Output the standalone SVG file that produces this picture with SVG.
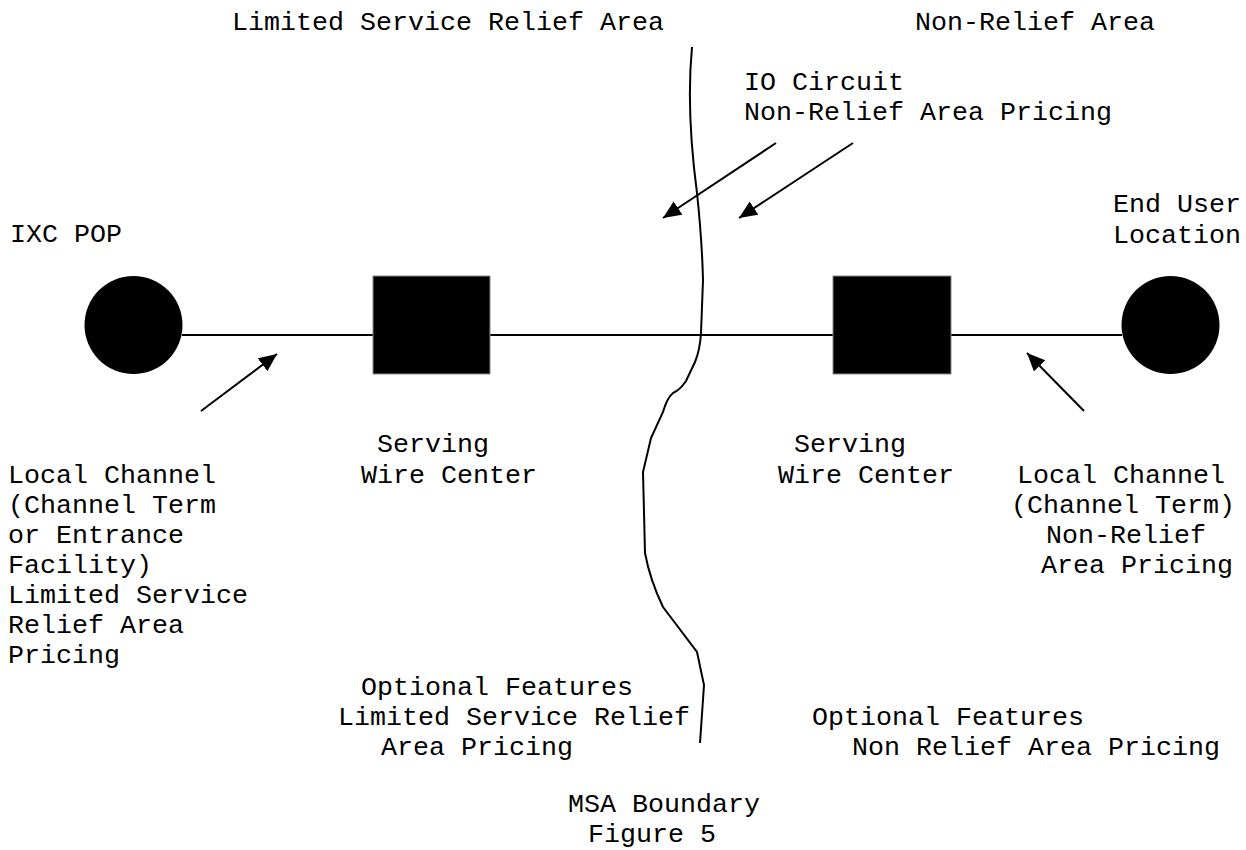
<svg xmlns="http://www.w3.org/2000/svg" width="1246" height="850" viewBox="0 0 1246 850">
<style>
text{font-family:"Liberation Mono","Courier New",monospace;font-size:26.67px;fill:#000;white-space:pre}
.ln{stroke:#000;stroke-width:2;fill:none}
.node{fill:#000}
</style>
<defs>
<marker id="ah" markerUnits="userSpaceOnUse" markerWidth="20" markerHeight="18" refX="18" refY="8" orient="auto">
<path d="M0,0 L18,8 L0,16 Z" fill="#000"/>
</marker>
</defs>
<rect width="1246" height="850" fill="#fff"/>
<g id="connectors">
<line class="ln" x1="182" y1="335" x2="1122" y2="335"/>
<path id="msa-boundary" class="ln" d="M692,47 Q686,110 697,193 Q702,240 703,280 L701,333 Q700,350 695,362 L686,381 Q680,390 673,393 Q667,398 663,412 L651,438 L643,472 L645,553 Q650,580 663,607 L697,652 L704,685 L700,743"/>
<line class="ln" x1="776" y1="143" x2="663" y2="218" marker-end="url(#ah)"/>
<line class="ln" x1="853" y1="143" x2="739" y2="218" marker-end="url(#ah)"/>
<line class="ln" x1="201" y1="411" x2="277" y2="354" marker-end="url(#ah)"/>
<line class="ln" x1="1084" y1="411" x2="1027" y2="353" marker-end="url(#ah)"/>
</g>
<g id="ixc-pop">
<circle class="node" cx="133.5" cy="325" r="49"/>
<text x="10" y="242">IXC POP</text>
</g>
<g id="end-user">
<circle class="node" cx="1170.5" cy="325" r="49"/>
<text x="1113" y="212">End User</text>
<text x="1113" y="243">Location</text>
</g>
<g id="swc-left">
<rect class="node" x="373" y="276" width="117" height="98" stroke="#888" stroke-width="1"/>
<text x="377" y="452">Serving</text>
<text x="361" y="483">Wire Center</text>
</g>
<g id="swc-right">
<rect class="node" x="833" y="276" width="118" height="98" stroke="#888" stroke-width="1"/>
<text x="794" y="452">Serving</text>
<text x="778" y="483">Wire Center</text>
</g>
<g id="labels">
<text x="232" y="30">Limited Service Relief Area</text>
<text x="915" y="30">Non-Relief Area</text>
<text x="744" y="90">IO Circuit</text>
<text x="744" y="120">Non-Relief Area Pricing</text>
<text x="8" y="483">Local Channel</text>
<text x="8" y="513">(Channel Term</text>
<text x="8" y="543">or Entrance</text>
<text x="8" y="573">Facility)</text>
<text x="8" y="603">Limited Service</text>
<text x="8" y="633">Relief Area</text>
<text x="8" y="663">Pricing</text>
<text x="1017" y="483">Local Channel</text>
<text x="1011" y="513">(Channel Term)</text>
<text x="1046" y="543">Non-Relief</text>
<text x="1041" y="573">Area Pricing</text>
<text x="361" y="695">Optional Features</text>
<text x="338" y="725">Limited Service Relief</text>
<text x="381" y="755">Area Pricing</text>
<text x="812" y="725">Optional Features</text>
<text x="852" y="755">Non Relief Area Pricing</text>
<text x="568" y="812">MSA Boundary</text>
<text x="588" y="842">Figure 5</text>
</g>
</svg>
